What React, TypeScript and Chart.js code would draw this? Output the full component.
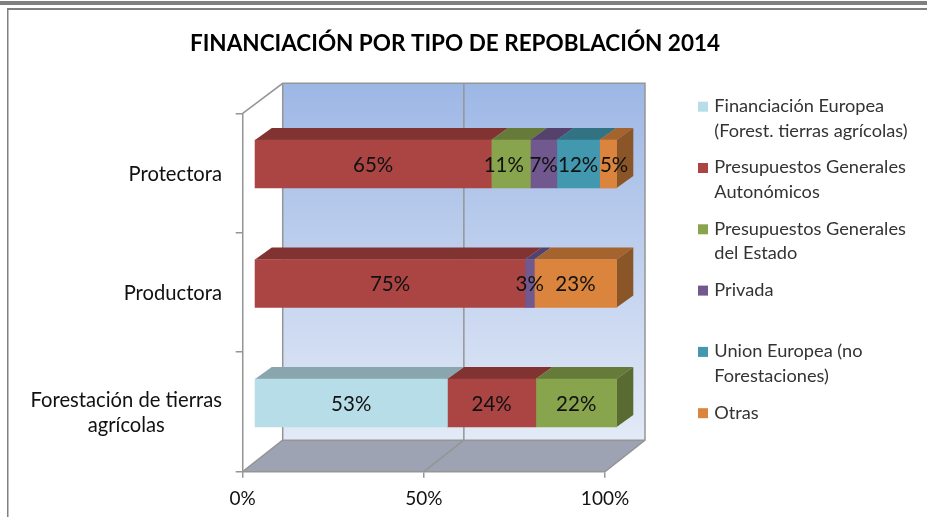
import React, { useEffect, useRef } from "react";
import { Chart, registerables } from "chart.js";

Chart.register(...registerables);

const categories = ["Protectora", "Productora", "Forestación de tierras agrícolas"];
const categoryLines = [["Protectora"], ["Productora"], ["Forestación de tierras", "agrícolas"]];

const financiacionEuropea = [null, null, 53.3];
const autonomicos = [65.4, 74.7, 24.4];
const estado = [10.8, null, 22.3];
const privada = [7.3, 2.6, null];
const unionEuropea = [11.8, null, null];
const otras = [4.7, 22.7, null];

const seriesNames = [
  ["Financiación Europea", "(Forest. tierras agrícolas)"],
  ["Presupuestos Generales", "Autonómicos"],
  ["Presupuestos Generales", "del Estado"],
  ["Privada"],
  ["Union Europea (no", "Forestaciones)"],
  ["Otras"],
];
const seriesValues = [financiacionEuropea, autonomicos, estado, privada, unionEuropea, otras];
const frontColors = ["#B7DEE8", "#AB4543", "#88A44C", "#71588F", "#4198AF", "#DB843D"];
const topColors = ["#89A6AE", "#813331", "#667B39", "#55426C", "#317283", "#A5632E"];
const sideColors = ["#6F878D", "#682928", "#5A6B31", "#452F5C", "#275C6A", "#8A5628"];
const xTicks = [0, 50, 100];
const labelNudge: Record<string, number> = { "0-2": -7, "0-5": 6 };

const FONT = "Lato, 'Open Sans', sans-serif";
const WALL = { dx: 40, dy: -31.5, top: 83.3 };
const BAR_SHIFT = { dx: 11.6, dy: -9 };
const BAR_DEPTH = { dx: 16.7, dy: -12 };
const LINE = "#959595";

const scene = {
  id: "scene",
  beforeDraw(chart: any) {
    const { ctx, scales } = chart;
    const x = scales.x;
    const y = scales.y;
    const x0 = x.getPixelForValue(0);
    const x50 = x.getPixelForValue(50);
    const x100 = x.getPixelForValue(100);
    const yB = y.bottom;
    const yT = y.top;
    const backB = yB + WALL.dy;
    ctx.save();
    ctx.fillStyle = "#fff";
    ctx.fillRect(0, 0, chart.width, chart.height);
    // page frame around the pasted chart
    ctx.fillStyle = "#808080";
    ctx.fillRect(0, 1, chart.width, 4);
    ctx.fillRect(7, 8, chart.width - 7, 2);
    ctx.fillRect(7, 8, 1.5, chart.height - 8);
    // back wall
    const g = ctx.createLinearGradient(0, WALL.top, 0, backB);
    g.addColorStop(0, "#9DB7E5");
    g.addColorStop(1, "#E3EAF7");
    ctx.fillStyle = g;
    ctx.fillRect(x0 + WALL.dx, WALL.top, x100 - x0, backB - WALL.top);
    // floor
    ctx.fillStyle = "#9DA3B3";
    ctx.beginPath();
    ctx.moveTo(x0, yB);
    ctx.lineTo(x100, yB);
    ctx.lineTo(x100 + WALL.dx, backB);
    ctx.lineTo(x0 + WALL.dx, backB);
    ctx.closePath();
    ctx.fill();
    ctx.strokeStyle = LINE;
    ctx.lineWidth = 1.5;
    ctx.beginPath();
    // wall outline
    ctx.moveTo(x0, yT);
    ctx.lineTo(x0 + WALL.dx, WALL.top);
    ctx.lineTo(x100 + WALL.dx, WALL.top);
    ctx.lineTo(x100 + WALL.dx, backB);
    ctx.lineTo(x100, yB);
    ctx.moveTo(x0, yB);
    ctx.lineTo(x0 + WALL.dx, backB);
    ctx.lineTo(x0 + WALL.dx, WALL.top);
    ctx.moveTo(x0 + WALL.dx, backB);
    ctx.lineTo(x100 + WALL.dx, backB);
    // 50% gridline
    ctx.moveTo(x50, yB);
    ctx.lineTo(x50 + WALL.dx, backB);
    ctx.lineTo(x50 + WALL.dx, WALL.top);
    ctx.stroke();
    ctx.restore();
  },
  afterDraw(chart: any) {
    const { ctx, scales } = chart;
    ctx.save();
    // category labels: block right-aligned, lines centred within it
    ctx.font = `20.2px ${FONT}`;
    ctx.fillStyle = "#111";
    ctx.textAlign = "center";
    ctx.textBaseline = "middle";
    const right = 222;
    categoryLines.forEach((lines, i) => {
      const w = Math.max(...lines.map((l) => ctx.measureText(l).width));
      const cy = scales.y.getPixelForValue(i);
      lines.forEach((l, k) => {
        ctx.fillText(l, right - w / 2, cy + (k - (lines.length - 1) / 2) * 25 + 1);
      });
    });
    // legend
    const legendX = 698;
    const textX = 714.3;
    const legendTop = 106.7;
    const step = 61.3;
    ctx.textAlign = "left";
    ctx.font = `18.2px ${FONT}`;
    seriesNames.forEach((lines, i) => {
      const ly = legendTop + i * step;
      ctx.fillStyle = frontColors[i];
      ctx.fillRect(legendX, ly - 5, 10, 10);
      ctx.fillStyle = "#333";
      lines.forEach((l, k) => ctx.fillText(l, textX, ly - 0.5 + k * 24.5));
    });
    ctx.restore();
  },
  beforeDatasetsDraw(chart: any) {
    const { ctx } = chart;
    ctx.save();
    ctx.translate(BAR_SHIFT.dx, BAR_SHIFT.dy);
    chart.data.datasets.forEach((ds: any, di: number) => {
      const meta = chart.getDatasetMeta(di);
      meta.data.forEach((bar: any, ci: number) => {
        if (ds.data[ci] == null) return;
        const top = bar.y - bar.height / 2;
        ctx.fillStyle = topColors[di];
        ctx.beginPath();
        ctx.moveTo(bar.base, top);
        ctx.lineTo(bar.x, top);
        ctx.lineTo(bar.x + BAR_DEPTH.dx, top + BAR_DEPTH.dy);
        ctx.lineTo(bar.base + BAR_DEPTH.dx, top + BAR_DEPTH.dy);
        ctx.closePath();
        ctx.fill();
        // the end face is visible only on the last segment of a stack
        const isLast = !chart.data.datasets.slice(di + 1).some((o: any) => o.data[ci] != null);
        if (isLast) {
          const bot = bar.y + bar.height / 2;
          ctx.fillStyle = sideColors[di];
          ctx.beginPath();
          ctx.moveTo(bar.x, top);
          ctx.lineTo(bar.x + BAR_DEPTH.dx, top + BAR_DEPTH.dy);
          ctx.lineTo(bar.x + BAR_DEPTH.dx, bot + BAR_DEPTH.dy);
          ctx.lineTo(bar.x, bot);
          ctx.closePath();
          ctx.fill();
        }
      });
    });
  },
  afterDatasetsDraw(chart: any) {
    const { ctx } = chart;
    ctx.font = `20.5px ${FONT}`;
    ctx.fillStyle = "#111";
    ctx.textAlign = "center";
    ctx.textBaseline = "middle";
    chart.data.datasets.forEach((ds: any, di: number) => {
      chart.getDatasetMeta(di).data.forEach((bar: any, ci: number) => {
        const v = ds.data[ci];
        if (v == null) return;
        const nudge = labelNudge[`${ci}-${di}`] || 0;
        ctx.fillText(`${Math.round(v)}%`, (bar.x + bar.base) / 2 + nudge, bar.y + 1);
      });
    });
    ctx.restore();
  },
};

export default function App() {
  const ref = useRef<HTMLCanvasElement | null>(null);
  useEffect(() => {
    document.body.style.margin = "0";
    const chart = new Chart(ref.current as HTMLCanvasElement, {
      type: "bar",
      data: {
        labels: categories,
        datasets: seriesNames.map((lines, i) => ({
          label: lines.join(" "),
          data: seriesValues[i],
          backgroundColor: frontColors[i],
          borderWidth: 0,
          barThickness: 48,
          clip: false as any,
        })),
      },
      plugins: [scene],
      options: {
        indexAxis: "y",
        responsive: false,
        animation: false,
        devicePixelRatio: 1,
        layout: { padding: { left: 0, right: 322, top: 0, bottom: 0 } },
        font: { family: FONT },
        scales: {
          x: {
            stacked: true,
            min: 0,
            max: 100,
            afterBuildTicks: (s: any) => {
              s.ticks = xTicks.map((value) => ({ value }));
            },
            afterFit: (s: any) => {
              s.height = 45.3;
            },
            ticks: {
              callback: (v: any) => `${v}%`,
              font: { family: FONT, size: 19 },
              color: "#111",
              maxRotation: 0,
              padding: 10,
            },
            grid: { drawOnChartArea: false, tickLength: 6, color: LINE, lineWidth: 1.5 },
            border: { color: LINE, width: 1.5 },
          },
          y: {
            stacked: true,
            afterFit: (s: any) => {
              s.width = 242.7;
            },
            ticks: { display: false },
            grid: { drawOnChartArea: false, tickLength: 7, color: LINE, lineWidth: 1.5, offset: true },
            border: { color: LINE, width: 1.5 },
          },
        },
        plugins: {
          legend: { display: false },
          tooltip: { enabled: false },
          title: {
            display: true,
            text: "FINANCIACIÓN POR TIPO DE REPOBLACIÓN 2014",
            color: "#000",
            font: { family: FONT, size: 22.5, weight: "bold", lineHeight: 1.2 },
            padding: { top: 30, bottom: 56.3 },
          },
        },
      },
    } as any);
    // title is centred over the whole picture, not over the plot
    (chart as any).titleBlock.right = 910;
    chart.draw();
    return () => chart.destroy();
  }, []);
  return (
    <canvas
      ref={ref}
      width={927}
      height={517}
      style={{ display: "block", position: "absolute", left: 0, top: 0 }}
    />
  );
}
